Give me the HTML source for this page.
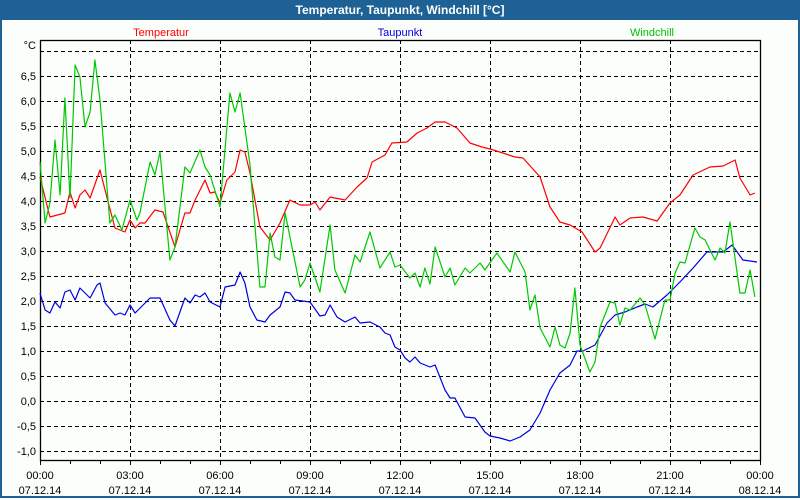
<!DOCTYPE html>
<html><head><meta charset="utf-8"><style>
body{margin:0;width:800px;height:500px;overflow:hidden;background:#fff;font-family:"Liberation Sans","DejaVu Sans",sans-serif}
#wrap{position:absolute;left:0;top:0;width:796px;height:496px;border:2px solid #1e6194;border-top:none;background:#fcfefc}
#title{position:absolute;left:0;top:0;width:800px;height:20px;background:#1e6194;color:#fff;font-weight:bold;font-size:12px;text-align:center;line-height:20px}
svg{position:absolute;left:0;top:0}
</style></head><body>
<div id="wrap"></div>
<div id="title">Temperatur, Taupunkt, Windchill [°C]</div>
<svg id="chart" width="800" height="500"></svg>
<script>
const yTicks=[-1.0,-0.5,0.0,0.5,1.0,1.5,2.0,2.5,3.0,3.5,4.0,4.5,5.0,5.5,6.0,6.5];
const xTickHours=[0,3,6,9,12,15,18,21,24];
const xTickTimes=["00:00","03:00","06:00","09:00","12:00","15:00","18:00","21:00","00:00"];
const xTickDates=["07.12.14","07.12.14","07.12.14","07.12.14","07.12.14","07.12.14","07.12.14","07.12.14","08.12.14"];
const tempHours=[0,.33,.83,1,1.17,1.33,1.5,1.67,2,2.27,2.5,2.83,3,3.17,3.33,3.5,3.83,4.1,4.5,4.83,5,5.17,5.5,5.67,5.83,6,6.23,6.5,6.67,6.83,7,7.33,7.67,8,8.33,8.67,9,9.17,9.33,9.67,10.17,10.57,10.9,11.07,11.5,11.73,12.23,12.57,12.9,13.17,13.5,13.9,14.33,14.73,15,15.43,15.83,16.1,16.67,17,17.33,17.67,18.07,18.5,18.67,19.17,19.33,19.67,20.1,20.57,21,21.33,21.77,22.33,22.77,23.17,23.33,23.67,23.83];
const tempValues=[4.48,3.68,3.76,4.18,3.86,4.12,4.22,4.06,4.62,3.98,3.46,3.38,3.62,3.46,3.56,3.56,3.82,3.78,3.08,3.76,3.76,4.02,4.42,4.16,4.18,3.96,4.42,4.58,5.02,4.98,4.56,3.48,3.22,3.56,4.02,3.92,3.92,3.98,3.82,4.08,4.02,4.28,4.46,4.78,4.92,5.16,5.18,5.36,5.46,5.58,5.58,5.46,5.16,5.08,5.04,4.96,4.88,4.86,4.48,3.88,3.58,3.52,3.38,2.98,3.06,3.68,3.52,3.66,3.68,3.6,3.96,4.12,4.52,4.68,4.7,4.82,4.46,4.12,4.16];
const dewHours=[0,.17,.33,.5,.67,.83,1,1.17,1.33,1.67,1.9,2,2.17,2.5,2.67,2.83,3,3.17,3.67,4,4.33,4.5,4.83,5,5.17,5.33,5.5,5.67,6,6.17,6.5,6.67,6.83,7,7.23,7.5,7.67,8,8.17,8.33,8.5,9,9.33,9.5,9.67,9.9,10.17,10.5,10.67,11,11.33,11.5,11.67,11.83,12,12.17,12.33,12.5,12.67,13,13.17,13.5,13.67,13.83,14.17,14.5,14.83,15,15.33,15.67,16,16.33,16.67,17,17.33,17.67,17.9,18.1,18.5,18.9,19.17,19.5,19.9,20.17,20.43,20.9,21.33,21.77,22.23,22.77,23.07,23.43,23.9];
const dewValues=[2.16,1.82,1.76,1.98,1.86,2.18,2.22,2.02,2.26,2.06,2.32,2.36,1.96,1.72,1.76,1.72,1.92,1.76,2.06,2.06,1.62,1.5,2.06,1.96,2.12,2.08,2.16,1.98,1.88,2.28,2.32,2.58,2.36,1.88,1.62,1.58,1.72,1.88,2.18,2.16,2.02,1.98,1.7,1.72,1.92,1.68,1.58,1.68,1.56,1.58,1.48,1.36,1.32,1.08,1.02,.86,.78,.88,.76,.68,.72,.22,.06,.06,-.32,-.34,-.62,-.7,-.74,-.8,-.72,-.58,-.24,.22,.56,.72,1.0,1.0,1.12,1.56,1.72,1.78,1.88,1.94,1.88,2.12,2.38,2.66,2.98,2.98,3.12,2.82,2.78];
const windHours=[0,.17,.33,.5,.67,.83,1,1.17,1.33,1.5,1.67,1.83,2,2.33,2.5,2.73,3,3.23,3.33,3.67,3.83,4,4.33,4.5,4.83,5,5.33,5.5,5.67,6,6.33,6.5,6.67,7,7.33,7.5,7.67,7.83,8,8.17,8.67,8.83,9,9.33,9.67,9.83,10.17,10.5,10.67,11,11.33,11.67,11.83,12,12.33,12.5,12.67,12.83,13,13.17,13.5,13.67,13.83,14.17,14.33,14.67,14.83,15.23,15.67,15.83,16.17,16.33,16.5,16.67,17,17.17,17.33,17.5,17.67,17.83,18,18.33,18.5,18.67,19,19.17,19.33,19.5,19.67,20,20.17,20.5,20.83,21,21.17,21.33,21.5,21.83,22,22.17,22.5,22.67,22.83,23,23.33,23.5,23.67,23.83];
const windValues=[4.78,3.56,3.96,5.22,4.12,6.06,4.06,6.72,6.48,5.48,5.78,6.82,6.02,3.56,3.72,3.42,4.02,3.62,3.76,4.78,4.52,4.98,2.82,3.08,4.68,4.56,5.02,4.68,4.52,3.88,6.16,5.78,6.16,4.72,2.28,2.28,3.36,2.88,2.82,3.76,2.28,2.42,2.76,2.18,3.52,2.62,2.16,2.92,2.78,3.38,2.66,2.98,2.68,2.72,2.46,2.56,2.28,2.66,2.34,3.08,2.48,2.66,2.32,2.66,2.56,2.76,2.62,2.96,2.58,2.98,2.58,1.82,2.12,1.46,1.08,1.48,1.12,1.06,1.36,2.26,1.12,.58,.78,1.48,1.98,1.96,1.52,1.86,1.82,2.06,1.92,1.24,2.02,2.02,2.56,2.78,2.76,3.46,3.28,3.22,2.82,3.06,2.96,3.58,2.16,2.16,2.62,2.08];

const NS='http://www.w3.org/2000/svg';
const svg=document.getElementById('chart');
const L=40,R=760,T=40,B=460;
const xs=h=>L+h*(R-L)/24;
const ys=v=>401-v*50;
function mk(tag,attrs,parent){const e=document.createElementNS(NS,tag);for(const k in attrs)e.setAttribute(k,attrs[k]);(parent||svg).appendChild(e);return e;}
// horizontal grid
const gridVals=yTicks.concat([7.0]);
gridVals.forEach(v=>{
  const g=mk('line',{x1:L,x2:R,y1:ys(v)+.5,y2:ys(v)+.5,stroke:'#000','stroke-width':1,'stroke-dasharray':'4,3'});
  
  
});
xTickHours.slice(1,-1).forEach(h=>{
  const g=mk('line',{x1:xs(h)+.5,x2:xs(h)+.5,y1:T,y2:B,stroke:'#000','stroke-width':1,'stroke-dasharray':'4,3'});
  
  
});
// minor ticks
for(let h=0;h<=24;h++){
  const t=mk('line',{x1:xs(h)+.5,x2:xs(h)+.5,y1:B,y2:B+(h%3==0?5:4),stroke:'#000'});
  
  
}
// frame
const fr=mk('rect',{x:L+.5,y:T+.5,width:R-L,height:B-T,fill:'none',stroke:'#000','stroke-width':1.3});


// y labels
yTicks.forEach(v=>{
  const t=mk('text',{x:36,y:ys(v)+4,'text-anchor':'end','font-size':11,fill:'#000'});
  t.textContent=v.toFixed(1).replace('.',',');
  
  
});
const unit=mk('text',{x:36,y:49,'text-anchor':'end','font-size':11,fill:'#000'});unit.textContent='°C';


xTickHours.forEach((h,i)=>{
  const a=mk('text',{x:xs(h),y:479,'text-anchor':'middle','font-size':11,fill:'#000'});a.textContent=xTickTimes[i];
  
  
  const b=mk('text',{x:xs(h),y:494,'text-anchor':'middle','font-size':11,fill:'#000'});b.textContent=xTickDates[i];
  
  
});
// legend
[['Temperatur','#ff0000',161,'legend-temperatur'],['Taupunkt','#0000e0',400,'legend-taupunkt'],['Windchill','#00c000',652,'legend-windchill']].forEach(l=>{
  const t=mk('text',{x:l[2],y:36,'text-anchor':'middle','font-size':11,fill:l[1]});t.textContent=l[0];
  
  
});
function series(hours,vals,color,name){
  const p=mk('polyline',{points:hours.map((h,i)=>xs(h).toFixed(1)+','+ys(vals[i]).toFixed(1)).join(' '),fill:'none',stroke:color,'stroke-width':1.2,'stroke-linejoin':'round'});
  
  
}
series(tempHours,tempValues,'#ff0000','temperatur-line');
series(dewHours,dewValues,'#0000e0','taupunkt-line');
series(windHours,windValues,'#00c800','windchill-line');
</script>
</body></html>
